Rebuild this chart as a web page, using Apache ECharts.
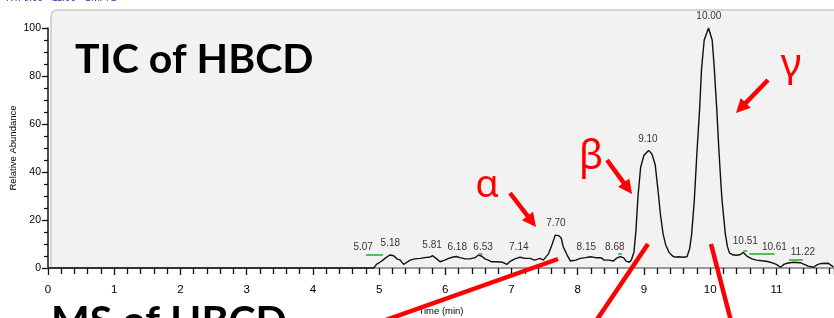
<!DOCTYPE html>
<html><head><meta charset="utf-8">
<script src="https://cdn.jsdelivr.net/npm/echarts@6/dist/echarts.min.js"></script>
<style>html,body{margin:0;padding:0;background:#fff;overflow:hidden}#c{width:834px;height:318px}</style>
</head><body><div id="c"></div>
<script>
// ---- data ----
const timeMin = [0,4.92,4.96,5.02,5.09,5.16,5.22,5.27,5.32,5.37,5.42,5.47,5.54,5.62,5.69,5.77,5.81,5.87,5.92,5.99,6.05,6.12,6.17,6.22,6.30,6.37,6.45,6.50,6.55,6.60,6.65,6.70,6.78,6.86,6.93,6.98,7.05,7.13,7.20,7.28,7.35,7.43,7.48,7.56,7.61,7.66,7.71,7.75,7.78,7.84,7.89,7.97,8.04,8.12,8.19,8.27,8.35,8.40,8.47,8.54,8.58,8.64,8.69,8.73,8.78,8.81,8.85,8.88,8.91,8.95,9.00,9.07,9.12,9.17,9.21,9.25,9.29,9.33,9.38,9.43,9.47,9.52,9.58,9.65,9.69,9.72,9.76,9.80,9.84,9.87,9.91,9.975,10.03,10.06,10.10,10.13,10.16,10.18,10.23,10.26,10.29,10.34,10.39,10.45,10.50,10.56,10.63,10.70,10.78,10.87,10.95,11.00,11.06,11.12,11.18,11.26,11.36,11.42,11.48,11.56,11.62,11.68,11.78,11.86];
const relAbundance = [0,0,1.5,2.5,4.0,5.4,5.1,3.8,3.3,1.5,2.4,3.3,3.8,4.0,4.3,4.6,5.1,3.8,2.6,3.3,4.0,4.6,4.8,4.3,3.8,3.8,4.3,5.4,4.9,3.8,3.3,2.6,2.6,2.4,1.5,2.8,3.8,4.5,4.0,4.0,3.3,4.0,3.3,6.0,9.6,13.7,13.5,12.5,8.9,5.4,2.9,3.3,4.0,4.3,4.7,4.3,4.3,3.3,3.3,2.9,4.0,4.7,4.3,2.9,2.4,3.3,6.8,16,30,42,47,49,47.5,43,33,22,14,9.5,6.5,5,4.5,4.7,4.5,4.7,8,14,28,48,66,83,95,100,95,84,66,50,36,28,14,9,6.3,5.5,5.3,5.5,6.5,4.8,3.8,3.3,3.0,2.7,2.0,1.5,0.3,1.6,2.1,2.4,2.2,1.5,0.8,0.3,1.4,1.9,2.0,0.5];

const peakLabels     = ['5.07','5.18','5.81','6.18','6.53','7.14','7.70','8.15','8.68','9.10','10.00','10.51','10.61','11.22'];
const peakLabelTime  = [4.76, 5.17, 5.80, 6.18, 6.57, 7.11, 7.67, 8.13, 8.56, 9.06, 9.98, 10.53, 10.97, 11.40];
const peakLabelLevel = [8.5, 10.2, 9.4, 8.5, 8.5, 8.5, 18.5, 8.5, 8.5, 53.5, 105, 11, 8.5, 6.5];

const markStart = [4.80, 6.50, 8.61, 10.50, 10.59, 11.19];
const markEnd   = [5.06, 6.56, 8.67, 10.56, 10.97, 11.40];
const markLevel = [5.6, 6.0, 6.0, 7.3, 6.0, 3.5];

const xTickLabels = ['0','1','2','3','4','5','6','7','8','9','10','11'];
const isomerNames = ['α','β','γ'];

// ---- fonts ----
function hasFont(name){
  const c=document.createElement('canvas').getContext('2d');
  c.font='20px monospace'; const w1=c.measureText('abcdefgh0123').width;
  c.font='20px "'+name+'", monospace'; const w2=c.measureText('abcdefgh0123').width;
  return Math.abs(w1-w2)>0.01;
}
const narrowOK = hasFont('Liberation Sans Narrow');
const NARROW = narrowOK ? 'Liberation Sans Narrow' : 'Liberation Sans';
const fs = narrowOK ? {x:13, y:12, peak:11, name:11} : {x:11.5, y:10.5, peak:10, name:9.5};

const chart = echarts.init(document.getElementById('c'), null, {renderer:'canvas'});

function arrow(x1,y1,x2,y2){
  const L=14, W=7;
  const dx=x2-x1, dy=y2-y1, len=Math.hypot(dx,dy), ux=dx/len, uy=dy/len;
  const bx=x2-ux*L, by=y2-uy*L;
  return [
    {type:'line', z:100, shape:{x1:x1,y1:y1,x2:bx+ux*2,y2:by+uy*2}, style:{stroke:'#ff0000', lineWidth:4.5}},
    {type:'polygon', z:100, shape:{points:[[x2,y2],[bx-uy*W,by+ux*W],[bx+uy*W,by-ux*W]]}, style:{fill:'#ff0000'}}
  ];
}
function redLine(x1,y1,x2,y2){
  return {type:'line', z:100, shape:{x1:x1,y1:y1,x2:x2,y2:y2}, style:{stroke:'#ff0000', lineWidth:4.5}};
}

const option = {
  animation:false,
  backgroundColor:'#ffffff',
  grid:{left:48, right:0, top:28, bottom:50, containLabel:false, outerBoundsMode:'none'},
  xAxis:{
    type:'value', min:0, max:11.87, interval:1,
    name:'Time (min)', nameLocation:'middle', nameGap:38, nameMoveOverlap:false,
    nameTextStyle:{color:'#000', fontFamily:NARROW, fontSize:fs.name},
    axisLine:{show:true, onZero:false, lineStyle:{color:'#9a9a9a', width:2}},
    axisTick:{show:true, length:7, lineStyle:{color:'#111', width:1.3}},
    minorTick:{show:true, splitNumber:5, length:6, lineStyle:{color:'#111', width:1.3}},
    splitLine:{show:false},
    axisLabel:{color:'#000', fontFamily:NARROW, fontSize:fs.x, margin:16, showMaxLabel:false,
      formatter:function(v){ return Number.isInteger(v) && v<xTickLabels.length ? xTickLabels[v] : ''; }}
  },
  yAxis:{
    type:'value', min:0, max:100, interval:20,
    name:'Relative Abundance', nameLocation:'middle', nameGap:30, nameRotate:90, nameMoveOverlap:false,
    nameTextStyle:{color:'#000', fontFamily:NARROW, fontSize:fs.name},
    axisLine:{show:true, lineStyle:{color:'#111', width:1.5}},
    axisTick:{show:true, length:6, lineStyle:{color:'#111', width:1.3}},
    minorTick:{show:true, splitNumber:4, length:4, lineStyle:{color:'#111', width:1.2}},
    splitLine:{show:false},
    axisLabel:{color:'#000', fontFamily:NARROW, fontSize:fs.y, margin:7}
  },
  series:[
    {
      type:'line', name:'TIC', z:3, clip:false, symbol:'none', smooth:false,
      data: timeMin.map((t,i)=>[t, relAbundance[i]]),
      lineStyle:{color:'#111', width:1.4},
      markLine:{
        silent:true, symbol:['none','none'], animation:false,
        lineStyle:{color:'#5cb85c', width:2, type:'solid'},
        label:{show:false},
        data: markStart.map((s,i)=>[{coord:[s, markLevel[i]]},{coord:[markEnd[i], markLevel[i]]}])
      }
    },
    {
      type:'scatter', name:'peaks', z:4, clip:false, symbolSize:1,
      itemStyle:{color:'rgba(0,0,0,0)'},
      data: peakLabels.map((s,i)=>({name:s, value:[peakLabelTime[i], peakLabelLevel[i]]})),
      label:{show:true, position:'inside', formatter:'{b}', color:'#000', fontFamily:NARROW, fontSize:fs.peak},
      labelLayout:{hideOverlap:false}
    }
  ],
  graphic:{elements:[
    {type:'rect', z:-100, shape:{x:51, y:10, width:820, height:258, r:[6,0,0,0]},
      style:{fill:'#f2f2f2', stroke:'#c9c9c9', lineWidth:1.5}},
    {type:'text', z:100, x:6, y:-7, style:{text:'RT: 0.00 - 11.99   SM: 7B', fill:'#2b3fae', font:'10px "Liberation Sans"'}},
    {type:'text', z:100, x:75, y:60, style:{text:'TIC of HBCD', fill:'#000', font:'bold 41px Lato', verticalAlign:'middle'}},
    {type:'text', z:100, x:51, y:322, style:{text:'MS of HBCD', fill:'#000', font:'bold 41px Lato', verticalAlign:'middle'}},
    {type:'text', z:100, x:487, y:186, style:{text:isomerNames[0], fill:'#ff0000', font:'38px "Noto Sans"', align:'center', verticalAlign:'middle'}},
    {type:'text', z:100, x:591, y:158, style:{text:isomerNames[1], fill:'#ff0000', font:'40px "Noto Sans"', align:'center', verticalAlign:'middle'}},
    {type:'text', z:100, x:791, y:66, style:{text:isomerNames[2], fill:'#ff0000', font:'40px "Noto Sans"', align:'center', verticalAlign:'middle'}}
  ]
  .concat(arrow(510,193,536,227))
  .concat(arrow(607,160,632,194))
  .concat(arrow(768,80,736,113))
  .concat([redLine(558,259,383,321), redLine(648,244,596,321), redLine(711,244,731,321)])
  }
};
chart.setOption(option);
</script>
</body></html>
